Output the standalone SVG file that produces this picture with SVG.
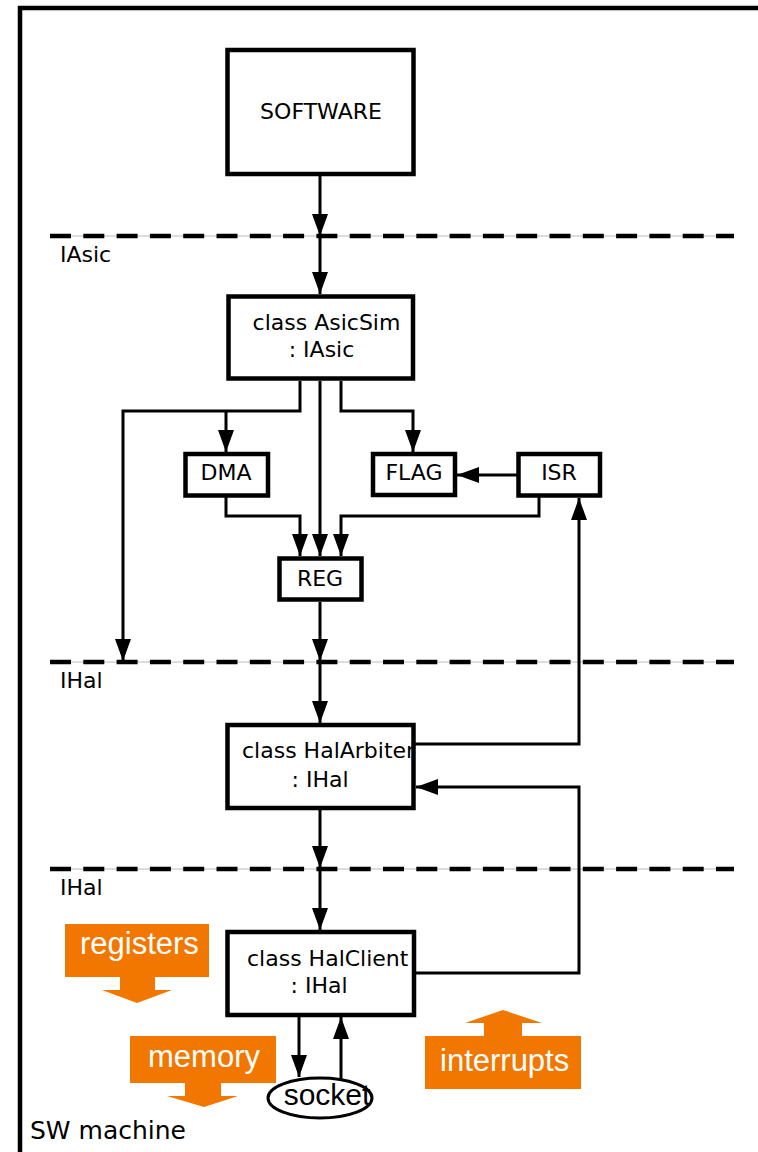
<svg xmlns="http://www.w3.org/2000/svg" width="758" height="1152" viewBox="0 0 758 1152">
<style>
.box{fill:#fff;stroke:#000;stroke-width:4.5}
.lbl{font-family:"DejaVu Sans",sans-serif;font-size:22px;fill:#000}
.mid{text-anchor:middle}
.con{fill:none;stroke:#000;stroke-width:3}
.dash{fill:none;stroke:#000;stroke-width:4.5;stroke-dasharray:21 12.3}
.dbase{fill:none;stroke:#bbb;stroke-width:1}
.org{fill:#F27700}
.otxt{font-family:"Liberation Sans",Arial,sans-serif;font-size:31px;fill:#fff}
</style>
<defs>
<marker id="ah" markerUnits="userSpaceOnUse" markerWidth="22" markerHeight="16" refX="22" refY="8" orient="auto">
<path d="M0,0 L22,8 L0,16 Z" fill="#000"/>
</marker>
</defs>
<rect width="758" height="1152" fill="#fff"/>
<g id="frame">
<path d="M18,8 H758 M20,6 V1152" fill="none" stroke="#000" stroke-width="4.5"/>
<text class="lbl" x="30" y="1139" style="font-size:25px">SW machine</text>
</g>
<g id="interfaces">
<line class="dbase" x1="50" y1="236" x2="734" y2="236"/>
<line class="dash" x1="50" y1="236" x2="734" y2="236"/>
<text class="lbl" x="60" y="262">IAsic</text>
<line class="dbase" x1="50" y1="662" x2="734" y2="662"/>
<line class="dash" x1="50" y1="662" x2="734" y2="662"/>
<text class="lbl" x="60" y="688">IHal</text>
<line class="dbase" x1="50" y1="869" x2="734" y2="869"/>
<line class="dash" x1="50" y1="869" x2="734" y2="869"/>
<text class="lbl" x="60" y="895">IHal</text>
</g>
<g id="connectors">
<path class="con" marker-end="url(#ah)" d="M320,176 V236"/>
<path class="con" marker-end="url(#ah)" d="M320,236 V294"/>
<path class="con" marker-end="url(#ah)" d="M300,381 V411 H123 V661"/>
<path class="con" marker-end="url(#ah)" d="M226,411 V452"/>
<path class="con" marker-end="url(#ah)" d="M320,381 V556"/>
<path class="con" marker-end="url(#ah)" d="M341,381 V411 H413 V452"/>
<path class="con" marker-end="url(#ah)" d="M518,475 H457"/>
<path class="con" marker-end="url(#ah)" d="M539,497 V516 H341 V556"/>
<path class="con" marker-end="url(#ah)" d="M226,497 V516 H300 V556"/>
<path class="con" marker-end="url(#ah)" d="M320,602 V661"/>
<path class="con" marker-end="url(#ah)" d="M320,662 V723"/>
<path class="con" marker-end="url(#ah)" d="M414,744 H579 V498"/>
<path class="con" marker-end="url(#ah)" d="M320,810 V868"/>
<path class="con" marker-end="url(#ah)" d="M320,869 V930"/>
<path class="con" marker-end="url(#ah)" d="M414,973 H579 V787 H416"/>
<path class="con" marker-end="url(#ah)" d="M299,1017 V1077"/>
<path class="con" marker-end="url(#ah)" d="M341,1080 V1017"/>
</g>
<g id="software">
<rect class="box" x="227.5" y="50" width="186" height="124"/>
<text class="lbl mid" x="321" y="119">SOFTWARE</text>
</g>
<g id="asicsim">
<rect class="box" x="228.5" y="296.5" width="184.5" height="82"/>
<text class="lbl mid" x="326.5" y="330">class AsicSim</text>
<text class="lbl mid" x="321.5" y="357">: IAsic</text>
</g>
<g id="dma">
<rect class="box" x="185.5" y="454" width="82.5" height="41.5"/>
<text class="lbl mid" x="226" y="480">DMA</text>
</g>
<g id="flag">
<rect class="box" x="373" y="454" width="82" height="41"/>
<text class="lbl mid" x="414" y="480">FLAG</text>
</g>
<g id="isr">
<rect class="box" x="518.5" y="454" width="81.5" height="41.5"/>
<text class="lbl mid" x="559" y="480">ISR</text>
</g>
<g id="reg">
<rect class="box" x="279.5" y="558.5" width="82" height="41"/>
<text class="lbl mid" x="320" y="586">REG</text>
</g>
<g id="halarbiter">
<rect class="box" x="227.5" y="725" width="186" height="83"/>
<text class="lbl" x="242" y="758">class HalArbiter</text>
<text class="lbl mid" x="320" y="787">: IHal</text>
</g>
<g id="halclient">
<rect class="box" x="227.5" y="932" width="186.5" height="83"/>
<text class="lbl" x="247" y="966">class HalClient</text>
<text class="lbl mid" x="319" y="993">: IHal</text>
</g>
<g id="socket">
<ellipse cx="320" cy="1098" rx="52" ry="20" fill="#fff" stroke="#000" stroke-width="3"/>
<text x="327" y="1105" text-anchor="middle" style="font-family:'Liberation Sans',Arial,sans-serif;font-size:30px;fill:#000">socket</text>
</g>
<g id="registers">
<path class="org" d="M65,924 H209 V977 H155 V990 H172 L137,1003 L102,990 H120 V977 H65 Z"/>
<text class="otxt" x="80" y="954">registers</text>
</g>
<g id="memory">
<path class="org" d="M130,1036 H276 V1083 H221 V1096 H238 L204,1107 L167,1096 H185 V1083 H130 Z"/>
<text class="otxt" x="148" y="1067">memory</text>
</g>
<g id="interrupts">
<path class="org" d="M425,1036 H484 V1023 H465 L503,1010 L542,1023 H522 V1036 H581 V1089 H425 Z"/>
<text class="otxt" x="440" y="1071">interrupts</text>
</g>
</svg>
